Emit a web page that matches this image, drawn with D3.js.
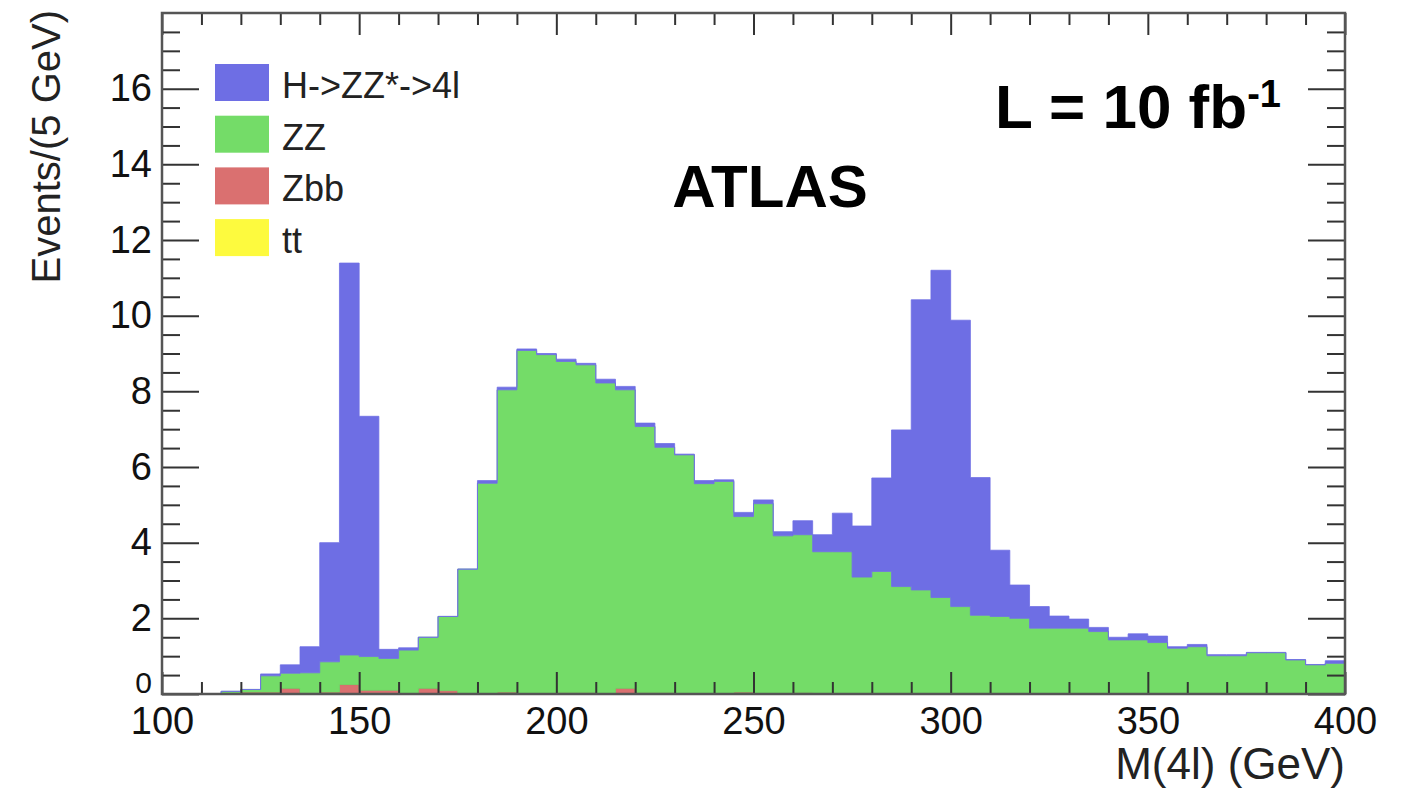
<!DOCTYPE html>
<html>
<head>
<meta charset="utf-8">
<script src="https://cdn.jsdelivr.net/npm/d3@7"></script>
<style>
    body { margin: 0; background: #fff; }
    svg text { font-family: "Liberation Sans", Arial, Helvetica, sans-serif; }
</style>
</head>
<body>
<div id="hist-div"></div>
<script>
// 5 GeV bins, low edges 100 ... 395
const binStarts = d3.range(100, 400, 5);
const binEnd = 400;

// events per bin, one array per stacked sample
const ttEvents = [
    0, 0, 0, 0, 0, 0, 0, 0, 0, 0,
    0, 0, 0, 0, 0, 0, 0, 0, 0, 0,
    0, 0, 0, 0, 0, 0, 0, 0, 0, 0,
    0, 0, 0, 0, 0, 0, 0, 0, 0, 0,
    0, 0, 0, 0, 0, 0, 0, 0, 0, 0,
    0, 0, 0, 0, 0, 0, 0, 0, 0, 0
];
const zbbEvents = [
    0, 0, 0, 0, 0.05, 0.05, 0.15, 0.03, 0.05, 0.25,
    0.1, 0.1, 0, 0.15, 0.09, 0, 0, 0.05, 0, 0,
    0.04, 0.04, 0, 0.15, 0.04, 0.04, 0, 0, 0, 0.05,
    0, 0, 0.04, 0, 0, 0, 0, 0, 0, 0,
    0, 0, 0, 0, 0, 0, 0, 0, 0, 0,
    0, 0, 0, 0, 0, 0, 0, 0, 0, 0
];
const zzEvents = [
    0, 0, 0, 0.07, 0.07, 0.43, 0.40, 0.53, 0.80, 0.78,
    0.89, 0.84, 1.16, 1.35, 1.96, 3.30, 5.57, 7.99, 9.08, 8.97,
    8.75, 8.66, 8.22, 7.89, 7.03, 6.48, 6.32, 5.56, 5.62, 4.64,
    5.03, 4.18, 4.17, 3.76, 3.76, 3.09, 3.24, 2.84, 2.75, 2.55,
    2.31, 2.08, 2.05, 2.00, 1.74, 1.74, 1.74, 1.65, 1.43, 1.43,
    1.36, 1.21, 1.25, 1.01, 1.01, 1.09, 1.09, 0.90, 0.77, 0.81
];
const higgsEvents = [
    0, 0, 0, 0, 0, 0.05, 0.22, 0.69, 3.15, 10.36,
    6.35, 0.24, 0.06, 0, 0, 0, 0.07, 0.07, 0.04, 0.03,
    0.06, 0.04, 0.10, 0.09, 0.09, 0.10, 0.02, 0.08, 0.04, 0.11,
    0.10, 0.11, 0.37, 0.45, 1.02, 1.35, 2.47, 4.14, 7.67, 8.65,
    7.57, 3.64, 1.75, 0.88, 0.57, 0.32, 0.24, 0.11, 0.07, 0.16,
    0.17, 0.04, 0.06, 0.03, 0.03, 0.01, 0.01, 0.01, 0.01, 0.07
];

const legendLabels = ["H->ZZ*->4l", "ZZ", "Zbb", "tt"];
const legendColors = ["#6e6ee4", "#74dc68", "#da7070", "#fdfa3e"];
const stackKeys = ["tt", "zbb", "zz", "h"];
const stackColors = {tt: "#fdfa3e", zbb: "#da7070", zz: "#74dc68", h: "#6e6ee4"};

const xMajor = [100, 150, 200, 250, 300, 350, 400];
const yMajor = [0, 2, 4, 6, 8, 10, 12, 14, 16];

const histWidth = 1408;
const histHeight = 789;
const histMargin = {top: 13, right: 63, bottom: 95, left: 162};
const plotW = histWidth - histMargin.left - histMargin.right;
const plotH = histHeight - histMargin.top - histMargin.bottom;

const svg = d3.select("#hist-div")
    .append("svg")
        .attr("width", histWidth)
        .attr("height", histHeight)
    .append("g")
        .attr("transform", `translate(${histMargin.left},${histMargin.top})`);

const x = d3.scaleLinear().domain([100, 400]).range([0, plotW]);
const y = d3.scaleLinear().domain([0, 18]).range([plotH, 0]);

// rows for the stack, last bin repeated at the upper edge for the step curve
const rows = binStarts.map((m, i) => ({
    m: m, tt: ttEvents[i], zbb: zbbEvents[i], zz: zzEvents[i], h: higgsEvents[i]
}));
rows.push(Object.assign({}, rows[rows.length - 1], {m: binEnd}));

const layers = d3.stack().keys(stackKeys)(rows);

const histArea = d3.area()
    .curve(d3.curveStepAfter)
    .x(d => x(d.data.m))
    .y0(d => y(d[0]))
    .y1(d => y(d[1]));

svg.append("g")
    .selectAll("path")
    .data(layers)
    .join("path")
        .attr("fill", d => stackColors[d.key])
        .attr("stroke", d => d.key == "zbb" ? "#a86060" : stackColors[d.key])
        .attr("stroke-width", d => d.key == "zbb" ? 1 : 0.8)
        .attr("d", histArea);

// ticks (ROOT style, pointing inwards, on all four sides)
function styleAxis(g) {
    g.select(".domain").remove();
    g.selectAll(".tick line").attr("stroke", "#333").attr("stroke-width", 2);
}

const xMinor = d3.range(100, 401, 10).filter(v => v % 50 != 0);
const yMinor = d3.range(0, 18.01, 0.5).filter(v => v % 2 != 0);

svg.append("g")
    .attr("transform", `translate(0,${plotH})`)
    .call(d3.axisBottom(x).tickValues(xMinor).tickFormat("").tickSizeInner(-12).tickSizeOuter(0))
    .call(styleAxis);
svg.append("g")
    .attr("transform", `translate(0,${plotH})`)
    .call(d3.axisBottom(x).tickValues(xMajor).tickFormat(d3.format("d")).tickSizeInner(-22).tickSizeOuter(0).tickPadding(13))
    .call(styleAxis)
    .call(g => g.selectAll("text").attr("font-size", 38).attr("fill", "#111"));
svg.append("g")
    .call(d3.axisTop(x).tickValues(xMinor).tickFormat("").tickSizeInner(-12).tickSizeOuter(0))
    .call(styleAxis);
svg.append("g")
    .call(d3.axisTop(x).tickValues(xMajor).tickFormat("").tickSizeInner(-22).tickSizeOuter(0))
    .call(styleAxis);

svg.append("g")
    .call(d3.axisLeft(y).tickValues(yMinor).tickFormat("").tickSizeInner(-18).tickSizeOuter(0))
    .call(styleAxis);
svg.append("g")
    .call(d3.axisLeft(y).tickValues(yMajor).tickFormat(d3.format("d")).tickSizeInner(-37).tickSizeOuter(0).tickPadding(10))
    .call(styleAxis)
    .call(g => g.selectAll("text").attr("font-size", 38).attr("fill", "#111"))
    // the zero label sits just above the "100" label, as in the original
    .call(g => g.selectAll("text").filter(d => d == 0).attr("dy", "-0.05em").attr("font-size", 30));
svg.append("g")
    .attr("transform", `translate(${plotW},0)`)
    .call(d3.axisRight(y).tickValues(yMinor).tickFormat("").tickSizeInner(-18).tickSizeOuter(0))
    .call(styleAxis);
svg.append("g")
    .attr("transform", `translate(${plotW},0)`)
    .call(d3.axisRight(y).tickValues(yMajor).tickFormat("").tickSizeInner(-37).tickSizeOuter(0))
    .call(styleAxis);

// frame
svg.append("rect")
    .attr("x", 0)
    .attr("y", 0)
    .attr("width", plotW)
    .attr("height", plotH)
    .attr("fill", "none")
    .attr("stroke", "#555")
    .attr("stroke-width", 2.5);

// axis titles
svg.append("text")
    .attr("transform", `translate(${60 - histMargin.left},${10 - histMargin.top}) rotate(-90)`)
    .attr("text-anchor", "end")
    .attr("font-size", 40)
    .attr("fill", "#222")
    .text("Events/(5 GeV)");

svg.append("text")
    .attr("x", plotW)
    .attr("y", 779 - histMargin.top)
    .attr("text-anchor", "end")
    .attr("font-size", 44)
    .attr("fill", "#222")
    .text("M(4l) (GeV)");

// legend
const legendStep = 51.7;
const legend = svg.append("g")
    .attr("transform", `translate(${215 - histMargin.left},${64 - histMargin.top})`);
legend.selectAll("rect")
    .data(legendLabels)
    .join("rect")
        .attr("x", 0)
        .attr("y", (d, i) => i * legendStep)
        .attr("width", 54)
        .attr("height", 37)
        .attr("fill", (d, i) => legendColors[i]);
legend.selectAll("text")
    .data(legendLabels)
    .join("text")
        .attr("x", 67)
        .attr("y", (d, i) => i * legendStep + 34)
        .attr("font-size", 36)
        .attr("fill", "#222")
        .text(d => d);

// labels
svg.append("text")
    .attr("x", 770 - histMargin.left)
    .attr("y", 207 - histMargin.top)
    .attr("text-anchor", "middle")
    .attr("font-size", 60)
    .attr("font-weight", "bold")
    .attr("fill", "#000")
    .text("ATLAS");

const lumi = svg.append("text")
    .attr("x", 995 - histMargin.left)
    .attr("y", 128 - histMargin.top)
    .attr("font-size", 62)
    .attr("font-weight", "bold")
    .attr("fill", "#000");
lumi.append("tspan").text("L = 10 fb");
lumi.append("tspan")
    .attr("font-size", 38)
    .attr("dy", -21)
    .text("-1");
</script>
</body>
</html>
